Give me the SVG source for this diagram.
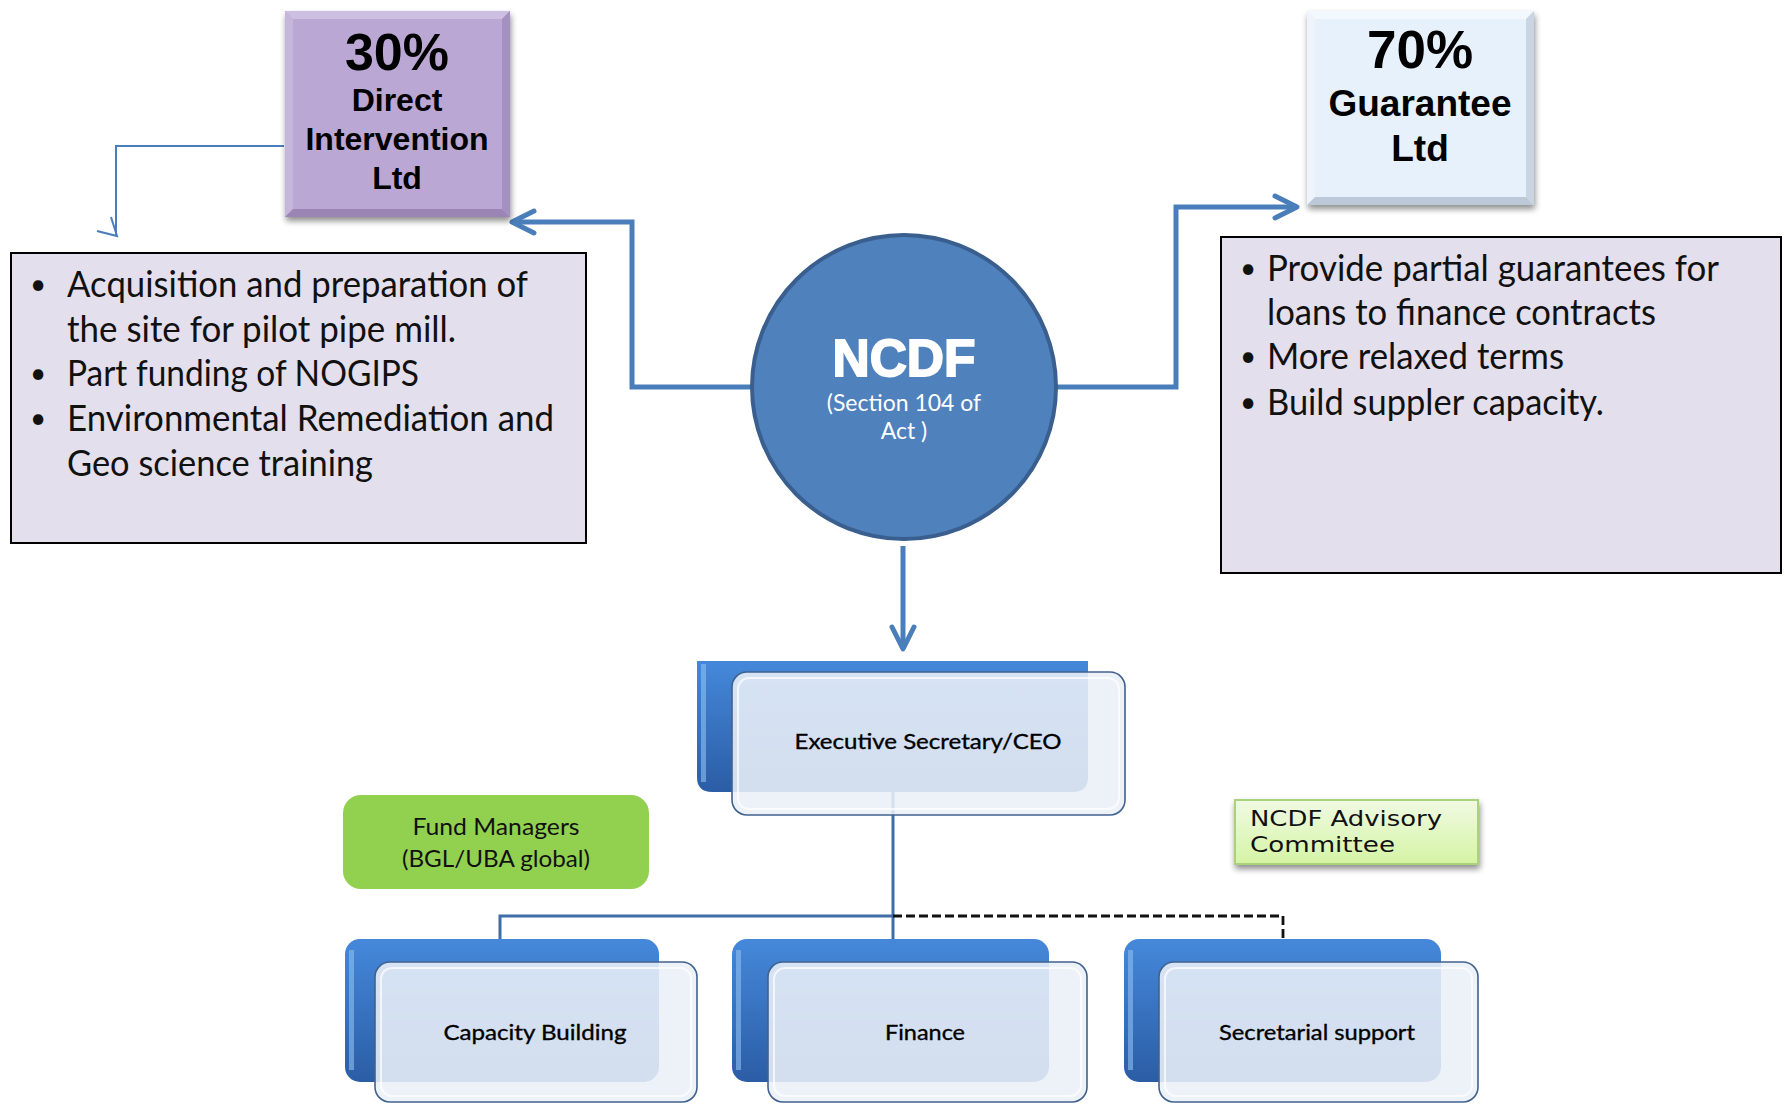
<svg xmlns="http://www.w3.org/2000/svg" width="1785" height="1105" viewBox="0 0 1785 1105">
<style>
.bold{font-family:"Liberation Sans",Arial,sans-serif;font-weight:bold;fill:#000;text-anchor:middle}
.cal{font-family:Lato,"Open Sans",sans-serif;fill:#111}
.bul{font-family:Lato,"Open Sans",sans-serif;fill:#111;font-size:37px}
.dot{font-family:Lato,"Open Sans",sans-serif;fill:#111;font-size:28px;text-anchor:middle}
.box{fill:#E4DFEC;stroke:#000;stroke-width:2}
.conn{fill:none;stroke:#4A7EBB;stroke-width:5}
.tree{fill:none;stroke:#3F6DA8;stroke-width:3}
.back{fill:url(#gBack)}
.front{fill:#EAF0F8;fill-opacity:0.88;stroke:#41628E;stroke-width:1.6}
.inner{fill:none;stroke:#FFFFFF;stroke-opacity:0.7;stroke-width:2}
.lbl{font-family:Lato,"Open Sans",sans-serif;font-size:21px;fill:#000;stroke:#000;stroke-width:0.35;text-anchor:middle}
</style>
<defs>
<linearGradient id="gBack" x1="0" y1="0" x2="0" y2="1">
<stop offset="0" stop-color="#4588DA"/>
<stop offset="1" stop-color="#2B5DA5"/>
</linearGradient>
<linearGradient id="gAdv" x1="0" y1="0" x2="0" y2="1">
<stop offset="0" stop-color="#F0FAE3"/>
<stop offset="1" stop-color="#D5F4A4"/>
</linearGradient>
<filter id="sh" x="-10%" y="-10%" width="130%" height="130%">
<feGaussianBlur in="SourceAlpha" stdDeviation="3"/>
<feOffset dx="1" dy="4" result="b"/>
<feComponentTransfer><feFuncA type="linear" slope="0.45"/></feComponentTransfer>
<feMerge><feMergeNode/><feMergeNode in="SourceGraphic"/></feMerge>
</filter>
<marker id="chev" viewBox="0 0 32 32" refX="27" refY="16" markerWidth="32" markerHeight="32" markerUnits="userSpaceOnUse" orient="auto">
<path d="M5,5 L27,16 L5,27" fill="none" stroke="#4A7EBB" stroke-width="5" stroke-linecap="round" stroke-linejoin="round"/>
</marker>
</defs>
<rect width="1785" height="1105" fill="#FFFFFF"/>

<g id="connectors">
<path class="conn" d="M751,387 H632 V222 H512" marker-end="url(#chev)"/>
<path class="conn" d="M1056,387 H1176 V207 H1297" marker-end="url(#chev)"/>
<path class="conn" d="M903,546 V649" marker-end="url(#chev)"/>
<path d="M284,146 H116 V236" fill="none" stroke="#4A7EBB" stroke-width="2"/>
<path d="M111,217 L117,236 L97,231" fill="none" stroke="#4A7EBB" stroke-width="2"/>
<path class="tree" d="M893,790 V939"/>
<path class="tree" d="M893,916 H500 V939"/>
<path d="M893,916 H1283 V938" fill="none" stroke="#111" stroke-width="2.8" stroke-dasharray="9,4"/>
</g>

<g id="node-direct">
<g filter="url(#sh)">
<rect x="285" y="11" width="225" height="206" fill="#BBA7D3"/>
</g>
<polygon points="285,11 510,11 502,19 293,19" fill="#CDBFE1"/>
<polygon points="285,11 293,19 293,209 285,217" fill="#C6B6DB"/>
<polygon points="510,11 510,217 502,209 502,19" fill="#A591C0"/>
<polygon points="285,217 510,217 502,209 293,209" fill="#9A85B5"/>
<text class="bold" x="397" y="70" font-size="52">30%</text>
<text class="bold" x="397" y="111" font-size="32">Direct</text>
<text class="bold" x="397" y="150" font-size="32">Intervention</text>
<text class="bold" x="397" y="189" font-size="32">Ltd</text>
</g>

<g id="node-guarantee">
<g filter="url(#sh)">
<rect x="1307" y="11" width="227" height="194" fill="#E7F1FC"/>
</g>
<polygon points="1307,11 1534,11 1526,19 1315,19" fill="#F3F8FE"/>
<polygon points="1307,11 1315,19 1315,197 1307,205" fill="#EDF4FC"/>
<polygon points="1534,11 1534,205 1526,197 1526,19" fill="#C9D5E2"/>
<polygon points="1307,205 1534,205 1526,197 1315,197" fill="#BCC9D8"/>
<text class="bold" x="1420" y="68" font-size="53">70%</text>
<text class="bold" x="1420" y="116" font-size="37">Guarantee</text>
<text class="bold" x="1420" y="161" font-size="37">Ltd</text>
</g>

<g id="node-direct-list">
<rect class="box" x="11" y="253" width="575" height="290"/>
<text class="dot" x="38" y="294">•</text>
<text class="bul" x="67" y="297" textLength="461" lengthAdjust="spacingAndGlyphs">Acquisition and preparation of</text>
<text class="bul" x="67" y="342" textLength="389" lengthAdjust="spacingAndGlyphs">the site for pilot pipe mill.</text>
<text class="dot" x="38" y="383">•</text>
<text class="bul" x="67" y="386" textLength="352" lengthAdjust="spacingAndGlyphs">Part funding of NOGIPS</text>
<text class="dot" x="38" y="428">•</text>
<text class="bul" x="67" y="431" textLength="487" lengthAdjust="spacingAndGlyphs">Environmental Remediation and</text>
<text class="bul" x="67" y="476" textLength="306" lengthAdjust="spacingAndGlyphs">Geo science training</text>
</g>

<g id="node-guarantee-list">
<rect class="box" x="1221" y="237" width="560" height="336"/>
<text class="dot" x="1248" y="278">•</text>
<text class="bul" x="1267" y="281" textLength="452" lengthAdjust="spacingAndGlyphs">Provide partial guarantees for</text>
<text class="bul" x="1267" y="325" textLength="389" lengthAdjust="spacingAndGlyphs">loans to finance contracts</text>
<text class="dot" x="1248" y="366">•</text>
<text class="bul" x="1267" y="369" textLength="297" lengthAdjust="spacingAndGlyphs">More relaxed terms</text>
<text class="dot" x="1248" y="412">•</text>
<text class="bul" x="1267" y="415" textLength="337" lengthAdjust="spacingAndGlyphs">Build suppler capacity.</text>
</g>

<g id="node-ncdf">
<circle cx="904" cy="387" r="152" fill="#4F81BD" stroke="#3A5F8E" stroke-width="4"/>
<text x="904" y="376" font-family="Liberation Sans,Arial,sans-serif" font-weight="bold" font-size="51" fill="#FFFFFF" stroke="#FFFFFF" stroke-width="1.8" text-anchor="middle" textLength="143" lengthAdjust="spacingAndGlyphs">NCDF</text>
<text class="cal" x="904" y="411" font-size="23" style="fill:#FFFFFF" text-anchor="middle">(Section 104 of</text>
<text class="cal" x="904" y="439" font-size="23" style="fill:#FFFFFF" text-anchor="middle">Act )</text>
</g>

<g id="node-ceo">
<path class="back" d="M697,661 H1088 V777 Q1088,792 1073,792 H712 Q697,792 697,777 Z"/>
<rect x="701" y="664" width="5" height="118" fill="#8FC0F2" opacity="0.6"/>
<rect class="front" x="732" y="672" width="393" height="143" rx="15"/>
<rect class="inner" x="738" y="678" width="381" height="131" rx="11"/>
<text class="lbl" x="928" y="749" textLength="267" lengthAdjust="spacingAndGlyphs">Executive Secretary/CEO</text>
</g>

<g id="node-fund">
<rect x="343" y="795" width="306" height="94" rx="18" fill="#92D050"/>
<text class="cal" x="496" y="835" font-size="24" text-anchor="middle" textLength="167" lengthAdjust="spacingAndGlyphs">Fund Managers</text>
<text class="cal" x="496" y="867" font-size="24" text-anchor="middle" textLength="188" lengthAdjust="spacingAndGlyphs">(BGL/UBA global)</text>
</g>

<g id="node-advisory">
<rect x="1235" y="800" width="243" height="64" fill="url(#gAdv)" stroke="#A9D27A" stroke-width="2" filter="url(#sh)"/>
<text x="1250" y="826" font-family="DejaVu Sans,Verdana,sans-serif" font-size="22" fill="#111" textLength="192" lengthAdjust="spacingAndGlyphs">NCDF Advisory</text>
<text x="1250" y="852" font-family="DejaVu Sans,Verdana,sans-serif" font-size="22" fill="#111" textLength="145" lengthAdjust="spacingAndGlyphs">Committee</text>
</g>

<g id="node-capacity">
<rect class="back" x="345" y="939" width="314" height="143" rx="15"/>
<rect x="349" y="950" width="5" height="120" fill="#8FC0F2" opacity="0.6"/>
<rect class="front" x="375" y="962" width="322" height="140" rx="15"/>
<rect class="inner" x="381" y="968" width="310" height="128" rx="11"/>
<text class="lbl" x="535" y="1040" textLength="183" lengthAdjust="spacingAndGlyphs">Capacity Building</text>
</g>

<g id="node-finance">
<rect class="back" x="732" y="939" width="317" height="143" rx="15"/>
<rect x="736" y="950" width="5" height="120" fill="#8FC0F2" opacity="0.6"/>
<rect class="front" x="768" y="962" width="319" height="140" rx="15"/>
<rect class="inner" x="774" y="968" width="307" height="128" rx="11"/>
<text class="lbl" x="925" y="1040" textLength="80" lengthAdjust="spacingAndGlyphs">Finance</text>
</g>

<g id="node-secretarial">
<rect class="back" x="1124" y="939" width="317" height="143" rx="15"/>
<rect x="1128" y="950" width="5" height="120" fill="#8FC0F2" opacity="0.6"/>
<rect class="front" x="1159" y="962" width="319" height="140" rx="15"/>
<rect class="inner" x="1165" y="968" width="307" height="128" rx="11"/>
<text class="lbl" x="1317" y="1040" textLength="196" lengthAdjust="spacingAndGlyphs">Secretarial support</text>
</g>
</svg>
